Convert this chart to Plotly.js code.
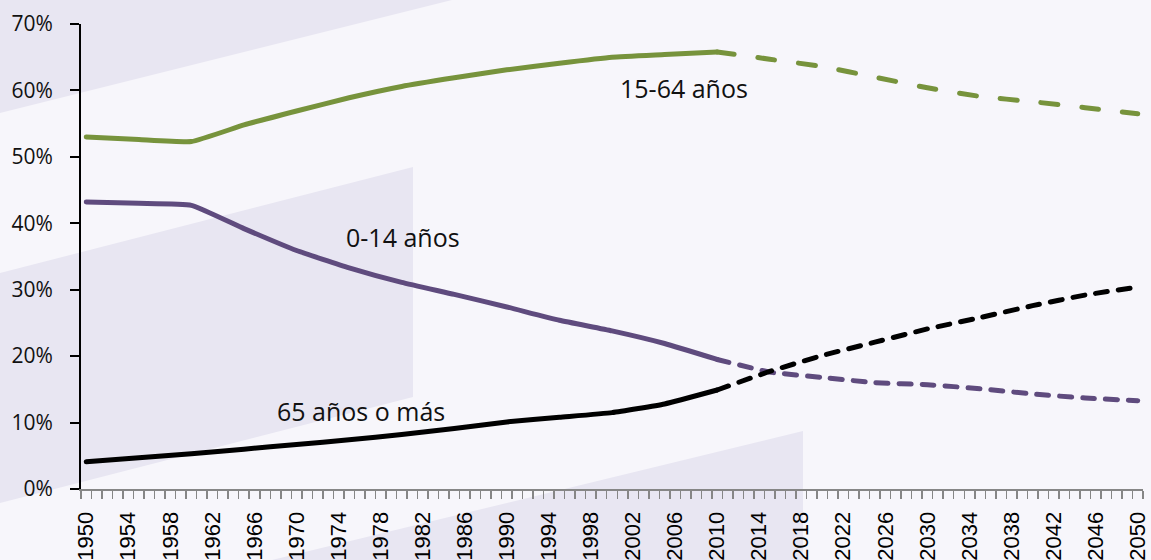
<!DOCTYPE html>
<html>
<head>
<meta charset="utf-8">
<script src="https://cdn.plot.ly/plotly-3.0.1.min.js"></script>
<style>
  html, body { margin: 0; padding: 0; background: #F7F6FB; }
  #chart { width: 1151px; height: 560px; }
</style>
</head>
<body>
<div id="chart"></div>
<script>
// ---- data (percent of total population) ----
const years = [1950,1955,1960,1965,1970,1975,1980,1985,1990,1995,2000,2005,2010,2015,2020,2025,2030,2035,2040,2045,2050];
const age15to64 = [53.0,52.6,52.3,54.8,56.9,58.9,60.6,61.9,63.1,64.1,65.0,65.4,65.8,64.7,63.6,62.0,60.4,59.1,58.3,57.4,56.5];
const age0to14  = [43.2,43.0,42.7,39.2,35.9,33.3,31.1,29.3,27.4,25.4,23.8,21.9,19.5,17.6,16.8,16.0,15.7,15.1,14.3,13.7,13.3];
const age65plus = [4.1,4.7,5.3,6.0,6.7,7.4,8.2,9.1,10.1,10.8,11.5,12.8,14.9,17.7,20.1,22.1,24.1,25.8,27.6,29.2,30.4];
const lastObservedYear = 2010;
const seriesNames = ["15-64 años","0-14 años","65 años o más"];
const tickYears = [];
for (let y = 1950; y <= 2050; y += 4) tickYears.push(y);

// ---- layout geometry ----
const W = 1151, H = 560;
const M = {l: 81, r: 8, t: 24, b: 71};
const PW = W - M.l - M.r, PH = H - M.t - M.b;
function pp(x, y) { return ((x - M.l) / PW).toFixed(5) + ',' + ((H - M.b - y) / PH).toFixed(5); }
function poly(pts) { return 'M' + pts.map(p => pp(p[0], p[1])).join(' L') + ' Z'; }
const bandColor = '#E8E6F2';
const bands = [
  [[0,0],[452,0],[0,113]],
  [[0,273],[413,167],[413,397],[0,503]],
  [[272,560],[803,431],[803,560]]
];

function split(vals) {
  const i = years.indexOf(lastObservedYear);
  return {
    hx: years.slice(0, i + 1), hy: vals.slice(0, i + 1),
    px: years.slice(i), py: vals.slice(i)
  };
}
const styles = [
  {vals: age15to64, color: '#77933C', dash: '17px,24px'},
  {vals: age0to14,  color: '#5F4B7E', dash: '12px,11px'},
  {vals: age65plus, color: '#000000', dash: '12px,11px'}
];
const traces = [];
styles.forEach((s, k) => {
  const d = split(s.vals);
  traces.push({x: d.hx, y: d.hy, mode: 'lines', name: seriesNames[k], showlegend: false,
    line: {color: s.color, width: 5, shape: 'spline', smoothing: 0.4}, hoverinfo: 'skip'});
  traces.push({x: d.px, y: d.py, mode: 'lines', name: seriesNames[k] + ' (proyección)', showlegend: false,
    line: {color: s.color, width: 5, shape: 'spline', smoothing: 0.4, dash: s.dash}, hoverinfo: 'skip'});
});

const annFont = {family: 'Open Sans, sans-serif', size: 25, color: '#111111'};
const layout = {
  width: W, height: H,
  margin: M,
  paper_bgcolor: '#F7F6FB',
  plot_bgcolor: 'rgba(0,0,0,0)',
  showlegend: false,
  xaxis: {
    type: 'linear', range: [1949.5, 2050.5],
    tickmode: 'array', tickvals: tickYears, ticktext: tickYears.map(String),
    tickangle: -90, ticks: '',
    ticklabelstandoff: 12,
    tickfont: {family: 'Liberation Sans, Arial, sans-serif', size: 22, color: '#000000'},
    showgrid: false, zeroline: false,
    showline: true, linecolor: '#868686', linewidth: 2,
    minor: {ticks: 'outside', tick0: 1949.5, dtick: 1, ticklen: 8, tickwidth: 1.5, tickcolor: '#868686', showgrid: false},
    fixedrange: true
  },
  yaxis: {
    range: [0, 70], dtick: 10, tick0: 0, ticksuffix: '%',
    ticks: 'outside', ticklen: 9, tickwidth: 2, tickcolor: '#000000',
    ticklabelstandoff: 13,
    tickfont: {family: 'Open Sans, sans-serif', size: 21, color: '#111111'},
    showgrid: false, zeroline: false,
    showline: true, linecolor: '#000000', linewidth: 2,
    fixedrange: true
  },
  shapes: bands.map(b => ({type: 'path', xref: 'paper', yref: 'paper', path: poly(b),
    fillcolor: bandColor, line: {width: 0}, layer: 'below'})),
  annotations: [
    {x: 2006.8, y: 60.3, xref: 'x', yref: 'y', text: seriesNames[0], showarrow: false, font: annFont},
    {x: 1980.1, y: 38.0, xref: 'x', yref: 'y', text: seriesNames[1], showarrow: false, font: annFont},
    {x: 1976.1, y: 11.8, xref: 'x', yref: 'y', text: seriesNames[2], showarrow: false, font: annFont}
  ]
};
Plotly.newPlot('chart', traces, layout, {staticPlot: true, displayModeBar: false}).then(function (gd) {
  gd.querySelectorAll('.scatterlayer .js-line').forEach(function (p) {
    p.style.strokeLinecap = 'round';
  });
});
</script>
</body>
</html>
